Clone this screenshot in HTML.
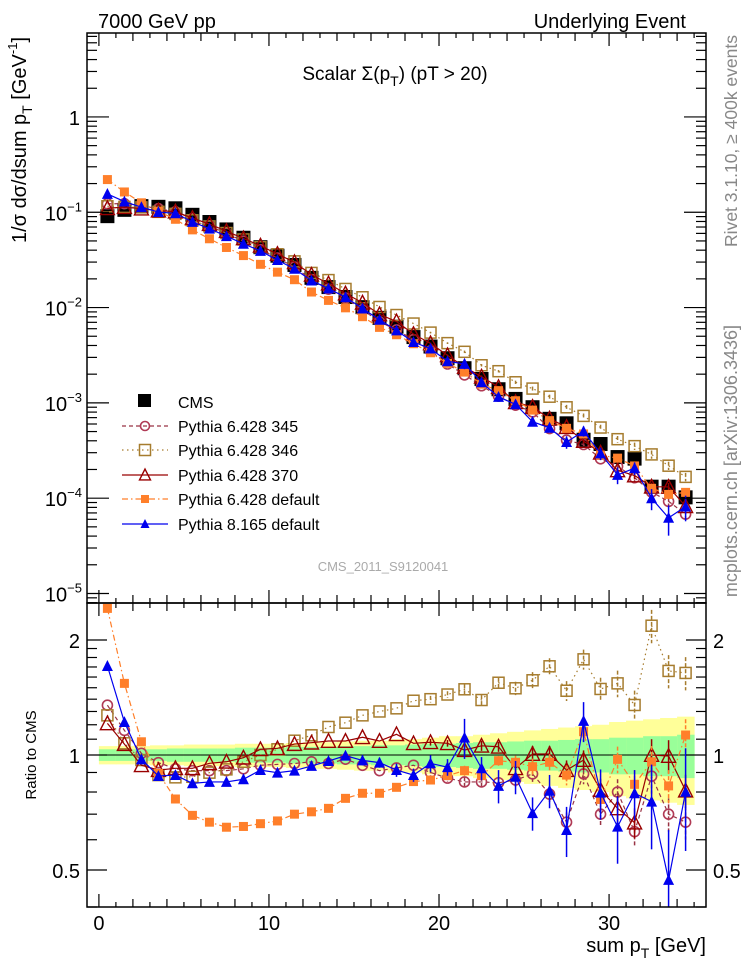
<!DOCTYPE html>
<html><head><meta charset="utf-8">
<style>
body{margin:0;background:#fff;}
svg{display:block;font-family:"Liberation Sans",Arial,sans-serif;}
</style></head>
<body>
<svg id="chart" width="746" height="972" viewBox="0 0 746 972" xmlns="http://www.w3.org/2000/svg">
  <rect x="0" y="0" width="746" height="972" fill="#fff"/>
  <text x="98" y="28" font-size="20">7000 GeV pp</text>
  <text x="686" y="28" font-size="20" text-anchor="end">Underlying Event</text>
  <text x="395" y="80" font-size="19" text-anchor="middle">Scalar Σ(p<tspan font-size="14" dy="6">T</tspan><tspan dy="-6">) (pT &gt; 20)</tspan></text>
  <text transform="translate(26,140) rotate(-90)" font-size="20" text-anchor="middle">1/σ dσ/dsum p<tspan font-size="14" dy="6">T</tspan><tspan dy="-6"> [GeV</tspan><tspan font-size="13" dy="-9">-1</tspan><tspan dy="9">]</tspan></text>
  <text transform="translate(36,755) rotate(-90)" font-size="15" text-anchor="middle">Ratio to CMS</text>
  <text x="706" y="952" font-size="20" text-anchor="end">sum p<tspan font-size="14" dy="6">T</tspan><tspan dy="-6"> [GeV]</tspan></text>
  <text transform="translate(737,35) rotate(-90)" font-size="17.5" fill="#888" text-anchor="end">Rivet 3.1.10, ≥ 400k events</text>
  <text transform="translate(737,325) rotate(-90)" font-size="18" fill="#888" text-anchor="end">mcplots.cern.ch [arXiv:1306.3436]</text>
  <text x="383" y="571" font-size="13" fill="#aaa" text-anchor="middle">CMS_2011_S9120041</text>
  <g id="band"></g>
  <g id="marks"></g>
  <g id="axes"></g>
  <g id="legend"></g>
</svg>
<script>
const bins = [0.5,1.5,2.5,3.5,4.5,5.5,6.5,7.5,8.5,9.5,10.5,11.5,12.5,13.5,14.5,15.5,16.5,17.5,18.5,19.5,20.5,21.5,22.5,23.5,24.5,25.5,26.5,27.5,28.5,29.5,30.5,31.5,32.5,33.5,34.5];
const cmsValues = [0.091,0.106,0.116,0.114,0.11,0.094,0.079,0.066,0.054,0.043,0.035,0.028,0.0205,0.0164,0.0129,0.0101,0.0078,0.0063,0.0049,0.0039,0.00294,0.00231,0.00178,0.00139,0.0011,0.0009,0.00068,0.00061,0.00041,0.00037,0.00027,0.00026,0.000132,0.000132,0.000102];
const cmsTotErr = [0.055,0.055,0.055,0.06,0.06,0.065,0.065,0.065,0.07,0.07,0.07,0.075,0.08,0.08,0.085,0.09,0.09,0.1,0.1,0.11,0.12,0.12,0.13,0.14,0.15,0.16,0.17,0.18,0.19,0.2,0.22,0.23,0.24,0.25,0.26];
const cmsStatErr = [0.035,0.035,0.035,0.035,0.04,0.04,0.04,0.04,0.045,0.045,0.045,0.05,0.05,0.05,0.055,0.055,0.06,0.06,0.065,0.07,0.07,0.075,0.08,0.08,0.085,0.09,0.09,0.095,0.1,0.1,0.11,0.11,0.12,0.12,0.13];
const ratio345 = [1.35,1.16,1.01,0.955,0.92,0.91,0.91,0.91,0.92,0.94,0.945,0.95,0.96,0.95,0.975,0.94,0.91,0.925,0.94,0.9,0.87,0.85,0.85,0.846,0.86,0.892,0.79,0.667,0.892,0.70,0.80,0.63,0.88,0.70,0.667];
const ratio346 = [1.27,1.073,0.97,0.886,0.874,0.877,0.899,0.917,0.96,1.0,1.035,1.09,1.126,1.184,1.215,1.27,1.30,1.325,1.387,1.40,1.44,1.486,1.393,1.546,1.495,1.569,1.707,1.473,1.78,1.489,1.54,1.352,2.18,1.66,1.64];
const ratio370 = [1.21,1.068,0.94,0.913,0.923,0.923,0.951,0.96,0.984,1.035,1.041,1.068,1.077,1.088,1.088,1.113,1.088,1.133,1.073,1.08,1.073,1.03,1.057,1.051,0.923,1.006,1.006,0.913,0.97,0.81,0.725,0.665,1.0,0.994,0.807];
const ratioP6def = [2.42,1.54,1.083,0.895,0.767,0.695,0.667,0.647,0.65,0.661,0.672,0.70,0.71,0.725,0.77,0.794,0.794,0.823,0.852,0.86,0.883,0.91,0.883,0.966,0.957,0.932,0.957,0.886,1.151,0.765,0.974,0.838,0.96,0.83,1.128];
const ratioP8def = [1.71,1.22,0.974,0.881,0.886,0.843,0.85,0.85,0.864,0.913,0.899,0.91,0.936,0.964,0.996,0.968,0.955,0.913,0.886,0.951,0.929,1.11,0.923,0.83,0.877,0.704,0.806,0.636,1.228,0.797,0.649,0.794,0.755,0.471,0.801];
const errP8def = [0.01,0.01,0.01,0.01,0.01,0.01,0.01,0.01,0.015,0.015,0.015,0.02,0.02,0.02,0.025,0.03,0.03,0.04,0.04,0.05,0.05,0.12,0.07,0.1,0.1,0.1,0.1,0.15,0.12,0.15,0.2,0.15,0.25,0.35,0.3];
const errMC = [0,0,0,0,0,0,0,0,0,0,0,0,0,0,0,0,0,0.01,0.01,0.02,0.02,0.03,0.03,0.03,0.04,0.05,0.05,0.06,0.06,0.07,0.08,0.09,0.1,0.1,0.1];
const yTickExp = [0,-1,-2,-3,-4,-5];
const xTickLabels = [0,10,20,30];
const ratioTickLabels = [0.5,1,2];

const NS="http://www.w3.org/2000/svg";
const L=87,R=706,T=33,M=603,B=907;
const X0=-0.7,X1=35.7;
const YLOG1=Math.log10(7.6), YLOG0=-5.1;
const RLOG1=Math.log10(2.5), RLOG0=Math.log10(0.4);
function sx(v){return L+(v-X0)/(X1-X0)*(R-L);}
function sy(v){return T+(YLOG1-Math.log10(v))/(YLOG1-YLOG0)*(M-T);}
function sr(v){return M+(RLOG1-Math.log10(v))/(RLOG1-RLOG0)*(B-M);}
function mk(tag,attrs,parent){const e=document.createElementNS(NS,tag);for(const k in attrs)e.setAttribute(k,attrs[k]);parent.appendChild(e);return e;}

const band=document.getElementById('band');
const marks=document.getElementById('marks');
const axes=document.getElementById('axes');
const legend=document.getElementById('legend');

const defs=mk('defs',{},document.getElementById('chart'));
const c1=mk('clipPath',{id:'cu'},defs);mk('rect',{x:L,y:T,width:R-L,height:M-T},c1);
const c2=mk('clipPath',{id:'cr'},defs);mk('rect',{x:L,y:M,width:R-L,height:B-M},c2);
const gU=mk('g',{'clip-path':'url(#cu)'},marks);
const gR=mk('g',{'clip-path':'url(#cr)'},marks);

bins.forEach((b,i)=>{
  const x0=sx(b-0.5),x1=sx(b+0.5);
  const y=mk('rect',{x:x0,y:sr(1+cmsTotErr[i]),width:x1-x0+0.5,height:sr(1-cmsTotErr[i])-sr(1+cmsTotErr[i]),fill:'#ffff99'},band);
  
  
  const g=mk('rect',{x:x0,y:sr(1+cmsStatErr[i]),width:x1-x0+0.5,height:sr(1-cmsStatErr[i])-sr(1+cmsStatErr[i]),fill:'#99ff99'},band);
  
  
});
const ref=mk('line',{x1:L,x2:R,y1:sr(1),y2:sr(1),stroke:'#000','stroke-width':1},band);



function marker(g,type,x,y,color,size){
  let e;
  if(type==='sqf'){e=mk('rect',{x:x-size/2,y:y-size/2,width:size,height:size,fill:color},g);}
  else if(type==='sqo'){e=mk('rect',{x:x-size/2,y:y-size/2,width:size,height:size,fill:'none',stroke:color,'stroke-width':1.5},g);}
  else if(type==='circ'){e=mk('circle',{cx:x,cy:y,r:size/2,fill:'none',stroke:color,'stroke-width':1.6},g);}
  else if(type==='trio'){const h=size*0.9;e=mk('polygon',{points:`${x},${y-h/2-1} ${x-size/2},${y+h/2} ${x+size/2},${y+h/2}`,fill:'none',stroke:color,'stroke-width':1.4},g);}
  else {const h=size*0.9;e=mk('polygon',{points:`${x},${y-h/2-1} ${x-size/2},${y+h/2} ${x+size/2},${y+h/2}`,fill:color},g);}
  return e;
}

const series=[
  {name:'pythia-6428-345',label:'Pythia 6.428 345',r:ratio345,err:errMC,color:'#b03a55',line:'#993344',dash:'4,3',m:'circ',s:10},
  {name:'pythia-6428-346',label:'Pythia 6.428 346',r:ratio346,err:errMC,color:'#a67c2e',line:'#a67c2e',dash:'1.5,3.5',m:'sqo',s:11},
  {name:'pythia-6428-370',label:'Pythia 6.428 370',r:ratio370,err:errMC,color:'#990000',line:'#990000',dash:'',m:'trio',s:14},
  {name:'pythia-6428-default',label:'Pythia 6.428 default',r:ratioP6def,err:errMC,color:'#ff7f2a',line:'#ff7f2a',dash:'6,3,1.5,3',m:'sqf',s:9},
  {name:'pythia-8165-default',label:'Pythia 8.165 default',r:ratioP8def,err:errP8def,color:'#0000ee',line:'#0000ee',dash:'',m:'trif',s:11}
];

bins.forEach((b,i)=>{
  const e=marker(gU,'sqf',sx(b),sy(cmsValues[i]),'#000',14);
  
  
});

series.forEach(s=>{
  [[gU,i=>sy(s.r[i]*cmsValues[i]),(i,f)=>sy(s.r[i]*cmsValues[i]*f)],[gR,i=>sr(s.r[i]),(i,f)=>sr(s.r[i]*f)]].forEach(([g,fy,fe])=>{
    const pts=bins.map((b,i)=>sx(b)+','+fy(i)).join(' ');
    const pl=mk('polyline',{points:pts,fill:'none',stroke:s.line,'stroke-width':1.2,'stroke-dasharray':s.dash},g);
    
    
    bins.forEach((b,i)=>{
      if(s.err[i]>0.015){
        const eb=mk('line',{x1:sx(b),x2:sx(b),y1:fe(i,1+s.err[i]),y2:fe(i,Math.max(0.05,1-s.err[i])),stroke:s.line,'stroke-width':1.5,'stroke-dasharray':s.dash?'4,2':''},g);
        
        
      }
      const e=marker(g,s.m,sx(b),fy(i),s.color,s.s);
      
      
    });
  });
});

[[T,M],[M,B]].forEach(([a,b])=>{
  const f=mk('rect',{x:L,y:a,width:R-L,height:b-a,fill:'none',stroke:'#000','stroke-width':1.5},axes);
  
  
});
for(let v=0;v<=35;v++){
  const len=v%10===0?13:(v%2===0?8:5);
  [[T,1],[M,-1],[M,1],[B,-1]].forEach(([y,d])=>{
    mk('line',{x1:sx(v),x2:sx(v),y1:y,y2:y+d*len,stroke:'#000','stroke-width':1.2},axes);
  });
}
xTickLabels.forEach(v=>{
  const t=mk('text',{x:sx(v),y:930,'font-size':20,'text-anchor':'middle'},axes);
  t.textContent=v;
  
  
});
for(let e=-6;e<=0;e++){
  for(let k=1;k<=9;k++){
    const v=k*Math.pow(10,e);const y=sy(v);
    if(y<T||y>M)continue;
    const len=k===1?22:10;
    mk('line',{x1:L,x2:L+len,y1:y,y2:y,stroke:'#000','stroke-width':1.2},axes);
    mk('line',{x1:R,x2:R-len,y1:y,y2:y,stroke:'#000','stroke-width':1.2},axes);
  }
}
yTickExp.forEach(e=>{
  const y=sy(Math.pow(10,e));
  const t=mk('text',{x:e===0?80:82,y:y+8,'font-size':20,'text-anchor':'end'},axes);
  if(e===0){t.textContent='1';}
  else{t.textContent='10';const sp=mk('tspan',{dy:-9,'font-size':13},t);sp.textContent='−'+(-e);}
  
  
});
[0.4,0.5,0.6,0.7,0.8,0.9,1,1.1,1.2,1.3,1.4,1.5,1.6,1.7,1.8,1.9,2,2.5].forEach(v=>{
  const y=sr(v);if(y<M||y>B)return;
  const len=(v===0.5||v===1||v===2)?20:10;
  mk('line',{x1:L,x2:L+len,y1:y,y2:y,stroke:'#000','stroke-width':1.2},axes);
  mk('line',{x1:R,x2:R-len,y1:y,y2:y,stroke:'#000','stroke-width':1.2},axes);
});
ratioTickLabels.forEach(v=>{
  [[80,'end'],[713,'start']].forEach(([x,a])=>{
    const t=mk('text',{x:x,y:sr(v)+8,'font-size':20,'text-anchor':a},axes);
    t.textContent=v;
    
    
  });
});

const legY=[401,426,450,475,499,524];
const ce=mk('rect',{x:138,y:394,width:13,height:13,fill:'#000'},legend);


const ct=mk('text',{x:178,y:408,'font-size':16},legend);
ct.textContent='CMS';


series.forEach((s,i)=>{
  const y=legY[i+1];
  mk('line',{x1:122,x2:168,y1:y,y2:y,stroke:s.line,'stroke-width':1.2,'stroke-dasharray':s.dash},legend);
  const m=marker(legend,s.m,145,y,s.color,s.m==='circ'?9:(s.m==='sqf'?8:(s.m==='trif'?9:11)));
  
  
  const t=mk('text',{x:178,y:y+6,'font-size':16},legend);
  t.textContent=s.label;
  
  
});
</script>
</body></html>
